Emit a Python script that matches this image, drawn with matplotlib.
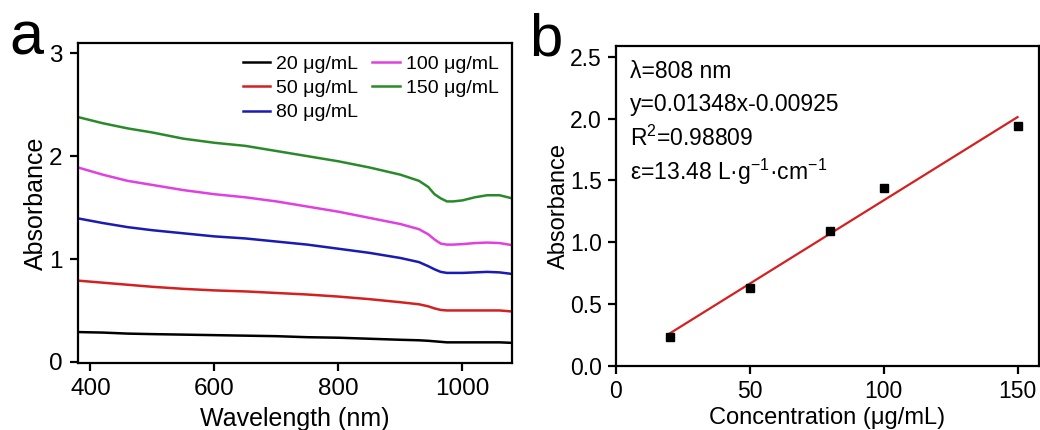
import numpy as np
import matplotlib
matplotlib.use("Agg")
import matplotlib.pyplot as plt

plt.rcParams['font.family'] = ['Liberation Sans', 'DejaVu Sans']
plt.rcParams['mathtext.fontset'] = 'custom'
plt.rcParams['mathtext.rm'] = 'Liberation Sans'
plt.rcParams['mathtext.default'] = 'regular'

# panel a: absorbance spectra
wavelength = [380, 420, 460, 500, 550, 600, 650, 700, 750, 800, 850, 900, 930,
              945, 955, 965, 975, 985, 1000, 1020, 1040, 1060, 1080]
abs_20 = [0.29, 0.285, 0.275, 0.27, 0.265, 0.26, 0.255, 0.25, 0.24, 0.235, 0.225, 0.215, 0.21,
          0.205, 0.20, 0.195, 0.19, 0.19, 0.19, 0.19, 0.19, 0.19, 0.185]
abs_50 = [0.79, 0.77, 0.75, 0.73, 0.71, 0.695, 0.685, 0.67, 0.655, 0.635, 0.61, 0.58, 0.56,
          0.54, 0.52, 0.505, 0.50, 0.50, 0.50, 0.50, 0.50, 0.50, 0.49]
abs_80 = [1.395, 1.35, 1.31, 1.28, 1.25, 1.22, 1.20, 1.17, 1.14, 1.10, 1.06, 1.01, 0.97,
          0.93, 0.90, 0.875, 0.865, 0.865, 0.865, 0.87, 0.875, 0.87, 0.855]
abs_100 = [1.89, 1.82, 1.76, 1.72, 1.67, 1.63, 1.60, 1.56, 1.51, 1.46, 1.40, 1.34, 1.29,
           1.24, 1.19, 1.15, 1.14, 1.14, 1.145, 1.155, 1.16, 1.155, 1.135]
abs_150 = [2.38, 2.32, 2.27, 2.23, 2.17, 2.13, 2.10, 2.05, 2.00, 1.95, 1.89, 1.82, 1.76,
           1.70, 1.63, 1.59, 1.56, 1.56, 1.57, 1.60, 1.62, 1.62, 1.59]
series_labels = ['20 μg/mL', '50 μg/mL', '80 μg/mL', '100 μg/mL', '150 μg/mL']
series_colors = ['#000000', '#d42020', '#1a1ab4', '#e040e0', '#2a8a2a']

# panel b: absorbance at 808 nm vs concentration
conc = [20, 50, 80, 100, 150]
abs_808 = [0.235, 0.626, 1.092, 1.44, 1.94]
slope = 0.01348
intercept = -0.00925
fit_text = ['λ=808 nm', 'y=0.01348x-0.00925', 'R$^{2}$=0.98809',
            'ε=13.48 L·g$^{-1}$·cm$^{-1}$']

fig = plt.figure(figsize=(10.4, 4.3), dpi=100)
ax1 = fig.add_axes([0.075, 0.156, 0.4173, 0.744])
ax2 = fig.add_axes([0.5923, 0.1495, 0.4067, 0.744])

for ax in (ax1, ax2):
    for sp in ax.spines.values():
        sp.set_linewidth(1.6)
    ax.tick_params(direction='out', length=6, width=1.6)

spectra = [abs_20, abs_50, abs_80, abs_100, abs_150]
for ys, lab, col in zip(spectra, series_labels, series_colors):
    ax1.plot(wavelength, ys, color=col, lw=1.8, label=lab)
ax1.set_xlim(380, 1080)
ax1.set_ylim(-0.01, 3.1)
ax1.set_xticks([400, 600, 800, 1000])
ax1.set_yticks([0, 1, 2, 3])
ax1.tick_params(labelsize=17.5, pad=5)
ax1.set_xlabel('Wavelength (nm)', fontsize=18, labelpad=5)
ax1.set_ylabel('Absorbance', fontsize=18, labelpad=0.5)
ax1.legend(ncol=2, loc='upper right', bbox_to_anchor=(1.0, 1.005), frameon=False,
           fontsize=14, handlelength=1.4, handletextpad=0.3, columnspacing=0.75,
           labelspacing=0.35, borderaxespad=0.3)
ax1.text(-0.12, 0.9625, 'a', transform=ax1.transAxes, fontsize=44,
         ha='center', va='baseline')

fit_x = np.array([conc[0], conc[-1]])
ax2.plot(fit_x, slope * fit_x + intercept, color='#d42020', lw=1.6)
ax2.plot(conc, abs_808, 's', color='black', ms=6)
ax2.set_xlim(0, 158)
ax2.set_ylim(0, 2.59)
ax2.set_xticks([0, 50, 100, 150])
ax2.set_yticks([0.0, 0.5, 1.0, 1.5, 2.0, 2.5])
ax2.set_yticklabels(['0.0', '0.5', '1.0', '1.5', '2.0', '2.5'])
ax2.tick_params(labelsize=16.5, pad=4)
ax2.set_xlabel('Concentration (μg/mL)', fontsize=17, labelpad=3)
ax2.set_ylabel('Absorbance', fontsize=17, labelpad=0.5)
for i, t in enumerate(fit_text):
    ax2.text(0.033, 0.92 - i * 0.105, t, transform=ax2.transAxes, fontsize=16.5,
             ha='left', va='center')
ax2.text(-0.165, 0.971, 'b', transform=ax2.transAxes, fontsize=43,
         ha='center', va='baseline')

fig.savefig('out.png', dpi=100)
